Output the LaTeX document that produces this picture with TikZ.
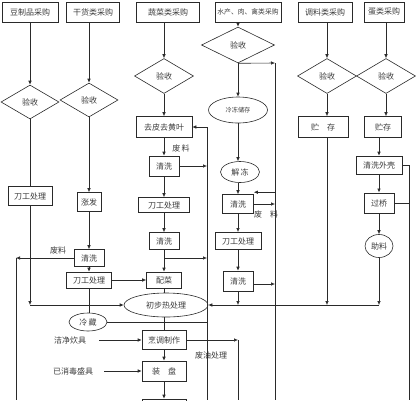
\documentclass[tikz,border=0pt]{standalone}
\usepackage{fontspec}
\newfontfamily\zh{Noto Sans CJK SC}
\usetikzlibrary{arrows.meta,shapes.geometric}
\definecolor{cInk}{HTML}{2A2A2A}
\definecolor{cText}{HTML}{3C3C3C}
\tikzset{
  >={Latex[length=4pt,width=3.5pt]},
  ln/.style   ={draw=cInk,line width=0.6pt},
  ar/.style   ={->,ln},
  box/.style 2 args={rectangle,ln,fill=white,inner sep=0pt,text=cText,
                 minimum width=#1,minimum height=#2,font=\zh\fontsize{8}{9}\selectfont},
  tbox/.style 2 args={box={#1}{#2},line width=1pt},
  dia/.style 2 args={diamond,ln,fill=white,inner sep=0pt,text=cText,
                 minimum width=#1,minimum height=#2,font=\zh\fontsize{8}{9}\selectfont},
  ell/.style 2 args={ellipse,ln,fill=white,inner sep=0pt,text=cText,
                 minimum width=#1,minimum height=#2,font=\zh\fontsize{8}{9}\selectfont},
  lbl/.style  ={inner sep=0pt,text=cText,font=\zh\fontsize{8}{9}\selectfont},
}
\begin{document}
\begin{tikzpicture}[x=1pt,y=-1pt]
\clip (0,0) rectangle (417,400);
% purchase row
\node[box={56}{20}] (b1) at (30,12) {豆制品采购};
\node[box={53}{20}] (b2) at (93,12) {干货类采购};
\node[box={63}{20}] (b3) at (168,12) {蔬菜类采购};
\node[box={66}{20},font=\zh\fontsize{6.8}{8}\selectfont] (b4) at (248,12) {水产、肉、禽类采购};
\node[box={54}{20}] (b5) at (325,12) {调料类采购};
\node[box={40}{20}] (b6) at (384,12) {蛋类采购};
% checks
\node[dia={58}{34}] (d1) at (30,102) {验收};
\node[dia={58}{34}] (d2) at (89,100) {验收};
\node[dia={59}{35}] (d3) at (164,76) {验收};
\node[dia={73}{36}] (d4) at (238,45) {验收};
\node[dia={59}{35}] (d5) at (327,76) {验收};
\node[dia={59}{35}] (d6) at (386,76) {验收};
% column 1 and 2
\node[tbox={44}{19}] (k1) at (30,196) {刀工处理};
\node[box={24}{19}] (zf) at (89,202) {涨发};
\node[box={30}{17}] (qx2) at (89,258) {清洗};
\node[box={45}{16}] (k2) at (89,280) {刀工处理};
\node[ell={38}{18}] (lc) at (88,322) {冷\,藏};
\node[lbl] (fl2) at (58,250) {废料};
% column 3
\node[box={56}{21}] (qp) at (164,127) {去皮去黄叶};
\node[lbl] (fl3) at (181,148) {废\,料};
\node[box={30}{20}] (qx3a) at (164,166) {清洗};
\node[box={51}{15}] (k3) at (164,205) {刀工处理};
\node[box={30}{17}] (qx3b) at (164,241) {清洗};
\node[box={35}{16}] (pc) at (164,280) {配菜};
\node[ell={84}{24}] (rb) at (166,305) {初步热处理};
\node[box={44}{19}] (pt) at (164,340) {烹调制作};
\node[box={44}{20}] (zp) at (164,371) {装\quad 盘};
\node[box={44}{20}] (bt) at (164,409) {};
\node[lbl] (jj) at (70,340) {洁净炊具};
\node[lbl] (ys) at (73,371) {已消毒盛具};
\node[lbl] (fy) at (211,355) {废油处理};
% column 4
\node[ell={59}{26},font=\zh\fontsize{6.2}{7}\selectfont] (ld) at (238,110) {冷冻储存};
\node[ell={39}{21}] (jd) at (240,172) {解\,冻};
\node[box={31}{19}] (qx4a) at (238,204) {清洗};
\node[lbl] (fl4) at (266,214) {废\quad 料};
\node[tbox={46}{17}] (k4) at (238,241) {刀工处理};
\node[box={30}{20}] (qx4b) at (238,281) {清洗};
% column 5 and 6
\node[box={50}{21}] (zc5) at (323,127) {贮\quad 存};
\node[box={37}{21}] (zc6) at (383,127) {贮存};
\node[box={46}{18}] (qw) at (379,165) {清洗外壳};
\node[tbox={30}{20}] (gq) at (379,203) {过桥};
\node[ell={28}{23}] (zl) at (379,246) {助料};
% joints
\coordinate (w1) at (30,305);
\coordinate (wl) at (16,258);
\coordinate (wl0) at (16,400);
\coordinate (vr) at (207,127);
\coordinate (vr0) at (207,400);
\coordinate (mr) at (275,63);
\coordinate (mr0) at (275,400);
\coordinate (er) at (409,165);
\coordinate (er0) at (409,400);
\coordinate (br) at (164,258);
\coordinate (oil) at (238,340);
\coordinate (oil0) at (238,400);
\coordinate (hb) at (379,305);

% column 1
\draw[ar] (b1) -- (d1);
\draw[ln] (d1) -- (k1);
\draw[ar] (k1) -- (w1);
\draw[ar] (w1) -- (rb.west);
% column 2
\draw[ar] (b2.south -| d2) -- (d2.north);
\draw[ar] (d2) -- (zf);
\draw[ar] (zf) -- (qx2);
\draw[ar] (qx2) -- (k2);
\draw[ar] (qx2) -- (wl);
\draw[ln] (wl) -- (wl0);
\draw[ln] (k2.south) -- (k2.south |- lc.north);
\draw[ar] (k2) -- (pc);
\draw[ln] (lc.east) -- (lc.east -| vr);
% column 3
\draw[ar] (b3.south -| d3) -- (d3.north);
\draw[ar] (d3) -- (qp);
\draw[ar] (qp) -- (qx3a);
\draw[ar] (qx3a) -- (k3);
\draw[ar] (k3) -- (qx3b);
\draw[ar] (qx3b) -- (pc);
\draw[ar] (br) -- (br -| vr);
\draw[ar] (qx3a.east) -- (qx3a.east -| vr);
\draw[ar] (vr) -- (qp.east);
\draw[ln] (vr) -- (vr0);
\draw[ln] (pc) -- (pc |- rb.north);
\draw[ln] (pc |- rb.south) -- (pt);
\draw[ar] (pt) -- (zp);
\draw[ar] (zp) -- (bt);
\draw[ar,shorten <=13pt] (jj) -- (pt);
\draw[ar,shorten <=11pt] (ys) -- (zp);
\draw[ar] (pt.east) -- (oil);
\draw[ln] (oil) -- (oil0);
% column 4
\draw[ar] (b4.south -| d4) -- (d4.north);
\draw[ar] (d4) -- (ld);
\draw[ar] (ld) -- (ld |- jd.north);
\draw[ar] (ld |- jd.south) -- (qx4a);
\draw[ar] (qx4a) -- (k4);
\draw[ar] (k4) -- (qx4b);
\draw[ar] (qx4b) -- (qx4b |- hb);
\draw[ar] (d4.south) -- (mr);
\draw[ln] (mr) -- (mr0);
\draw[ar] ([yshift=2pt]qx4a.north east -| mr) -- ([yshift=2pt]qx4a.north east);
\draw[ar] (qx4a.east) -- (qx4a.east -| mr);
\draw[ar] ([yshift=-3pt]qx4b.east) -- ([yshift=-3pt]qx4b.east -| mr);
% column 5
\draw[ar] (b5.south -| d5) -- (d5.north);
\draw[ar] (d5.south) -- (d5.south |- zc5.north);
\draw[ar] (zc5.south -| d5) -- (d5 |- hb);
% column 6
\draw[ar] (b6.south -| d6) -- (d6.north);
\draw[ar] (d6.south) -- (d6.south |- zc6.north);
\draw[ar] (zc6.south -| qw) -- (qw.north);
\draw[ar] (qw) -- (gq);
\draw[ar] (gq) -- (zl);
\draw[ar] (zl) -- (hb);
\draw[ln] (qw.east) -- (er) -- (er0);
\draw[ln] (gq.east) -- (gq.east -| er);
\draw[ar] (hb) -- (rb.east);
\end{tikzpicture}
\end{document}
